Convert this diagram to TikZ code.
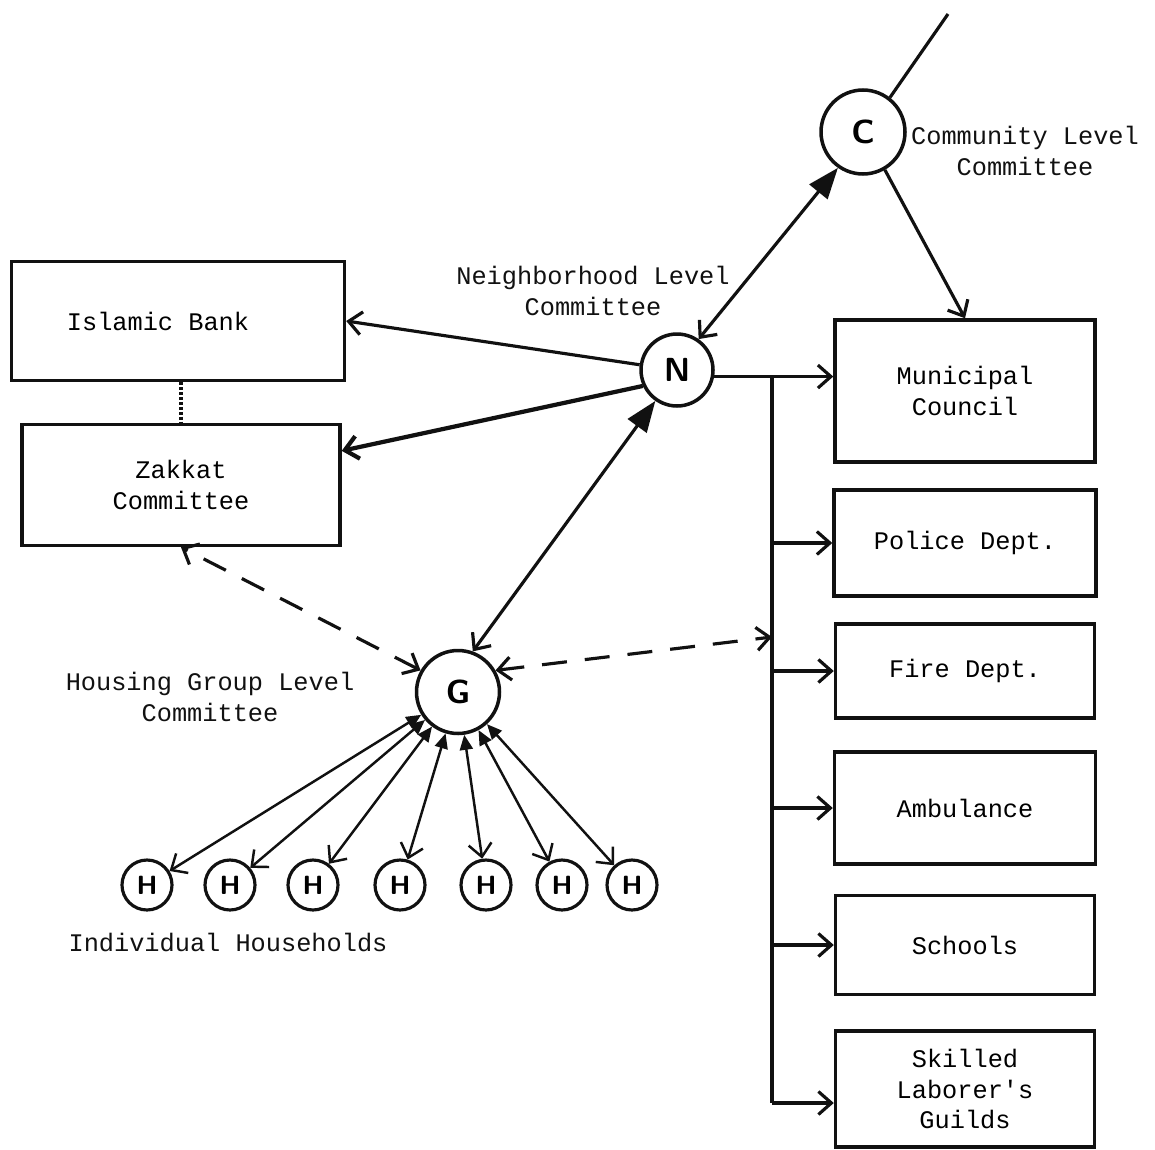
\documentclass[tikz,border=0pt]{standalone}
\usepackage{fontspec}
\setmainfont{Liberation Mono}
\usetikzlibrary{arrows.meta}
\definecolor{InkColor}{HTML}{111111}
\tikzset{
  ink/.style={draw=InkColor, line width=1.8pt},
  unitbox/.style={ink, line width=2pt, rectangle, align=center, inner sep=0pt,
    font=\fontsize{14.4pt}{17.6pt}\selectfont},
  levelnode/.style={ink, line width=2pt, circle, minimum size=#1, inner sep=0pt,
    font=\sffamily\bfseries\fontsize{19pt}{19pt}\selectfont},
  hnode/.style={ink, circle, minimum size=1.0cm, inner sep=0pt,
    font=\sffamily\bfseries\fontsize{15pt}{15pt}\selectfont},
  captext/.style={align=center, text=InkColor,
    font=\fontsize{14.4pt}{17.6pt}\selectfont},
  barb/.tip={Straight Barb[length=0.26cm,width=0.46cm]},
  bigtri/.tip={Triangle[length=0.62cm,width=0.46cm]},
  smalltri/.tip={Triangle[length=0.3cm,width=0.26cm]},
  dashline/.style={ink, dash pattern=on 0.5cm off 0.36cm}
}

\begin{document}
\begin{tikzpicture}[x=0.02cm, y=-0.02cm]
  \useasboundingbox (0,0) rectangle (1155,1149);

  % committees
  \node[levelnode=1.68cm] (C) at (863,132) {C};
  \node[levelnode=1.44cm] (N) at (677,370) {N};
  \node[levelnode=1.66cm] (G) at (458,692) {G};
  \coordinate (ctop) at (948,14);

  \node[captext] (Clab) at (1025,151) {Community Level\\Committee};
  \node[captext] (Nlab) at (593,291) {Neighborhood Level\\Committee};
  \node[captext] (Glab) at (210,697) {Housing Group Level\\Committee};

  % left side boxes
  \node[unitbox, minimum width=6.66cm, minimum height=2.38cm] (bank) at (178,321) {Islamic Bank\hspace*{0.8cm}};
  \node[unitbox, minimum width=6.36cm, minimum height=2.42cm] (zakkat) at (181,485) {Zakkat\\Committee};

  % right side boxes
  \node[unitbox, minimum width=5.2cm, minimum height=2.84cm] (muni) at (965,391) {Municipal\\Council};
  \node[unitbox, minimum width=5.24cm, minimum height=2.12cm] (police) at (965,543) {Police Dept.};
  \node[unitbox, minimum width=5.18cm, minimum height=1.88cm] (fire) at (965,671) {Fire Dept.};
  \node[unitbox, minimum width=5.22cm, minimum height=2.24cm] (amb) at (965,808) {Ambulance};
  \node[unitbox, minimum width=5.18cm, minimum height=1.98cm] (school) at (965,945) {Schools};
  \node[unitbox, minimum width=5.18cm, minimum height=2.32cm] (guild) at (965,1089) {Skilled\\Laborer\textquotesingle s\\Guilds};

  % households
  \foreach \hx [count=\i] in {147,230,313,400,486,562,632}
    \node[hnode] (H\i) at (\hx,885) {H};
  \node[captext] (Hlab) at (228,942) {Individual Households};

  % links
  \draw[ink] (C.52) -- (ctop);
  \draw[ink, barb-bigtri] (N.55) -- (C.235);
  \draw[ink, -barb] (C.-60) -- (muni.north);
  \draw[ink, barb-bigtri] (G.70) -- (N.235);
  \draw[ink, -barb] (N.172) -- (bank.east);
  \draw[ink, line width=2.4pt, -barb] (N.205) -- (zakkat.12);
  \draw[ink, densely dotted, line width=2.2pt] (zakkat.north |- bank.south) -- (zakkat.north);
  \foreach \i in {1,...,7}
    \draw[ink, line width=1.4pt, smalltri-barb] (G) -- (H\i);

  % service bus
  \coordinate (bustop) at (772,376);
  \coordinate (busend) at (772,1103);
  \coordinate (busin) at (772,637);
  \draw[ink, -barb] (N.-10) -- (N.-10 -| muni.west);
  \draw[ink] (bustop) -- (busend);
  \draw[ink, -barb] (police.west -| bustop) -- (police.west);
  \draw[ink, -barb] (fire.west -| bustop) -- (fire.west);
  \draw[ink, -barb] (amb.west -| bustop) -- (amb.west);
  \draw[ink, -barb] (school.west -| bustop) -- (school.west);
  \draw[ink, -barb] (busend) -- (busend -| guild.west);

  % dashed ties
  \draw[dashline, barb-barb] (G.30) -- (busin);
  \draw[dashline, barb-barb] (G.150) -- (zakkat.south);
\end{tikzpicture}
\end{document}
